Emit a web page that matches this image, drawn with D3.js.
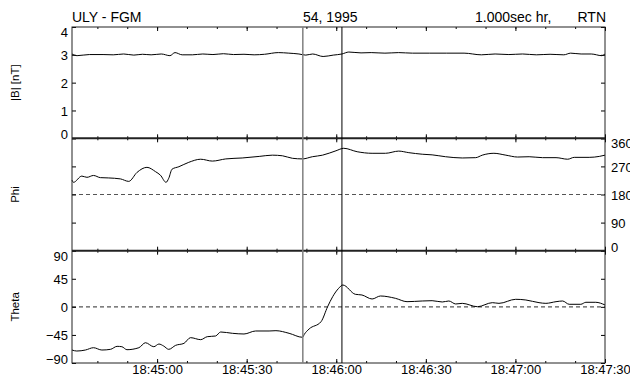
<!DOCTYPE html>
<html>
<head>
<meta charset="utf-8">
<script src="https://cdn.jsdelivr.net/npm/d3@7"></script>
<style>
body{margin:0;background:#fff;}
svg{display:block;font-family:"Liberation Sans",Arial,sans-serif;}
</style>
</head>
<body>
<svg id="chart" width="630" height="378"></svg>
<script>
// seconds after 18:44:00 UT, day 54 1995
var tStart = 31.5, tEnd = 210;
var markGray = 108.8, markBlack = 121.9;

var bT = [31.5,33.2,37.3,41.9,45.3,48.8,52.2,55.1,58.0,61.4,64.3,66.0,68.4,71.8,75.3,78.7,82.2,85.6,89.1,92.5,
	96.0,100.6,104.1,107.5,109.8,112.1,115.6,119.0,121.9,124.2,128.3,131.7,136.3,140.9,145.5,151.3,157.0,162.8,168.6,173.2,
	177.8,182.4,187.0,191.6,196.2,198.5,202.0,205.4,208.9,210];
var bV = [3.03,2.97,3.01,3.01,3.00,3.03,2.99,3.02,3.00,3.03,2.97,3.08,3.00,3.00,3.03,3.01,3.04,3.01,3.02,3.00,
	3.02,3.08,3.06,3.03,2.99,3.03,2.94,2.99,3.03,3.10,3.07,3.08,3.06,3.08,3.06,3.06,3.06,3.06,3.00,3.03,
	3.01,3.03,3.00,3.02,3.00,3.06,3.03,3.03,2.97,3.03];

var phiT = [31.5,32.0,34.8,36.5,38.7,41.0,43.8,47.7,50.5,53.3,56.6,59.5,61.1,63.0,63.9,65.0,67.3,70.6,74.6,
	78.5,83.0,88.5,94.2,98.6,102.0,105.3,108.7,112.0,115.4,119.9,122.5,127.0,132.0,136.5,140.9,144.3,148.8,152.1,156.6,
	162.2,166.7,168.9,172.8,176.8,180.7,184.6,189.1,193.6,197.5,199.7,204.7,208.1,210];
var phiV = [226,219,239,235,241,234,233,230,222,251,267,253,242,219,232,261,269,283,293,
	287,294,297,302,306,304,296,294,301,306,320,328,317,312,312,319,314,309,307,301,
	297,298,306,312,306,300,301,298,298,293,299,299,302,306];

var thT = [31.5,33.1,36.0,38.7,41.5,44.4,46.6,48.2,49.9,53.9,56.1,58.9,60.6,62.2,63.9,66.2,69.0,71.2,74.6,76.8,
	79.6,81.3,85.2,89.1,93.0,97.5,99.8,104.2,108.7,109.3,110.9,114.9,117.1,118.8,120.8,122.2,126.4,128.6,132.0,134.8,
	139.8,143.7,148.8,152.1,155.5,157.7,160.0,162.2,167.3,172.3,174.5,180.1,183.5,187.9,190.2,193.6,195.8,198.0,201.9,203.6,
	206.9,210];
var thV = [-69.2,-70.8,-69.2,-65.5,-69.2,-68.1,-63.3,-63.9,-68.7,-65.5,-57.5,-63.9,-59.6,-62.8,-68.1,-61.7,-58.5,-49.4,-52.6,-47.8,
	-46.7,-40.3,-42.4,-43.5,-38.7,-38.7,-38.2,-42.4,-48.8,-44.0,-35.5,-23.8,0.2,16.3,29.7,35.0,20.1,19.0,12.6,17.4,
	13.7,8.3,9.4,9.9,7.8,9.4,4.6,5.6,0.2,6.7,5.6,12.1,11.0,6.7,5.6,8.3,9.4,4.1,4.1,7.3,
	7.3,3.0];

var bTicks = [0,1,2,3,4];
var phiTicks = [0,90,180,270,360];
var thTicks = [-90,-45,0,45,90];

var base = Date.UTC(1995,1,23,18,44,0);
function tm(s){ return new Date(base + s*1000); }

var svg = d3.select("#chart");
var L = 72, R = 605;
var x = d3.scaleUtc().domain([tm(tStart),tm(tEnd)]).range([L,R]);

var panels = [
	{top:27, bot:138.3, dom:[0,4], ticks:bTicks, t:bT, v:bV, label:"|B| [nT]", side:"left", ref:null},
	{top:138.3, bot:250.7, dom:[0,360], ticks:phiTicks, t:phiT, v:phiV, label:"Phi", side:"right", ref:180},
	{top:250.7, bot:363, dom:[-90,90], ticks:thTicks, t:thT, v:thV, label:"Theta", side:"left", ref:0}
];

var major = d3.utcSecond.every(30).range(tm(tStart), tm(tEnd+0.1));
var minor = d3.utcSecond.every(10).range(tm(tStart), tm(tEnd+0.1));

panels.forEach(function(p,i){
	var y = d3.scaleLinear().domain(p.dom).range([p.bot,p.top]);
	var g = svg.append("g");

	if(p.ref !== null){
		g.append("line")
		.attr("x1",L).attr("x2",R)
		.attr("y1",y(p.ref)).attr("y2",y(p.ref))
		.attr("stroke","#555").attr("stroke-width",1.2)
		.attr("stroke-dasharray","4,3");
	}

	var line = d3.line()
		.x(function(d){ return x(tm(d[0])); })
		.y(function(d){ return y(d[1]); })
		.curve(d3.curveMonotoneX);
	g.append("path")
	.datum(d3.zip(p.t,p.v))
	.attr("fill","none").attr("stroke","#000").attr("stroke-width",1)
	.attr("d",line);

	// x ticks top & bottom, inward
	[[major,4],[minor,2]].forEach(function(m){
		var bot = g.append("g").attr("transform","translate(0,"+p.bot+")")
			.call(d3.axisBottom(x).tickValues(m[0]).tickSize(-m[1]).tickFormat(""));
		var top = g.append("g").attr("transform","translate(0,"+p.top+")")
			.call(d3.axisTop(x).tickValues(m[0]).tickSize(-m[1]).tickFormat(""));
		bot.select(".domain").remove(); top.select(".domain").remove();
	});

	// y ticks both sides
	var ly = g.append("g").attr("transform","translate("+L+",0)")
		.call(d3.axisLeft(y).tickValues(p.ticks).tickSize(-4).tickPadding(4)
			.tickFormat(p.side=="left" ? d3.format("d") : ""));
	var ry = g.append("g").attr("transform","translate("+R+",0)")
		.call(d3.axisRight(y).tickValues(p.ticks).tickSize(-4).tickPadding(6)
			.tickFormat(p.side=="right" ? d3.format("d") : ""));
	[ly,ry].forEach(function(a){
		a.select(".domain").remove();
		a.selectAll("text").attr("font-size","13px").attr("font-family","Liberation Sans, Arial, sans-serif").attr("fill","#000")
		.attr("dy",function(d){
			if(d == p.dom[1]) return "0.72em";
			if(d == p.dom[0]) return "0.05em";
			return "0.36em";
		});
	});

	g.append("text")
	.attr("transform","translate(18.5,"+((p.top+p.bot)/2)+") rotate(-90)")
	.attr("text-anchor","middle").attr("font-size","11.5px")
	.text(p.label);
});

svg.selectAll(".tick line").attr("stroke","#000");

// bottom time labels
var xl = svg.append("g").attr("transform","translate(0,363)")
	.call(d3.axisBottom(x).tickValues(major).tickSize(0).tickPadding(2).tickFormat(d3.utcFormat("%H:%M:%S")));
xl.select(".domain").remove();
xl.selectAll("text").attr("font-size","13px").attr("font-family","Liberation Sans, Arial, sans-serif").attr("fill","#000");

// frame
svg.append("rect").attr("x",L).attr("y",27).attr("width",R-L).attr("height",363-27)
	.attr("fill","none").attr("stroke","#222").attr("stroke-width",1);
[138.3,250.7].forEach(function(yy){
	svg.append("line").attr("x1",L).attr("x2",R).attr("y1",yy).attr("y2",yy)
	.attr("stroke","#222").attr("stroke-width",2);
});

// event markers
svg.append("line").attr("x1",x(tm(markGray))).attr("x2",x(tm(markGray)))
	.attr("y1",27).attr("y2",363).attr("stroke","#808080").attr("stroke-width",1.5);
svg.append("line").attr("x1",x(tm(markBlack))).attr("x2",x(tm(markBlack)))
	.attr("y1",27).attr("y2",363).attr("stroke","#000").attr("stroke-width",1);

// header
svg.append("text").attr("x",72).attr("y",21.5).attr("font-size","14px").text("ULY - FGM");
svg.append("text").attr("x",303).attr("y",21.5).attr("font-size","14px").text("54, 1995");
svg.append("text").attr("x",475).attr("y",21.5).attr("font-size","14px").text("1.000sec hr,");
svg.append("text").attr("x",606).attr("y",21.5).attr("font-size","14px").attr("text-anchor","end").text("RTN");
</script>
</body>
</html>
